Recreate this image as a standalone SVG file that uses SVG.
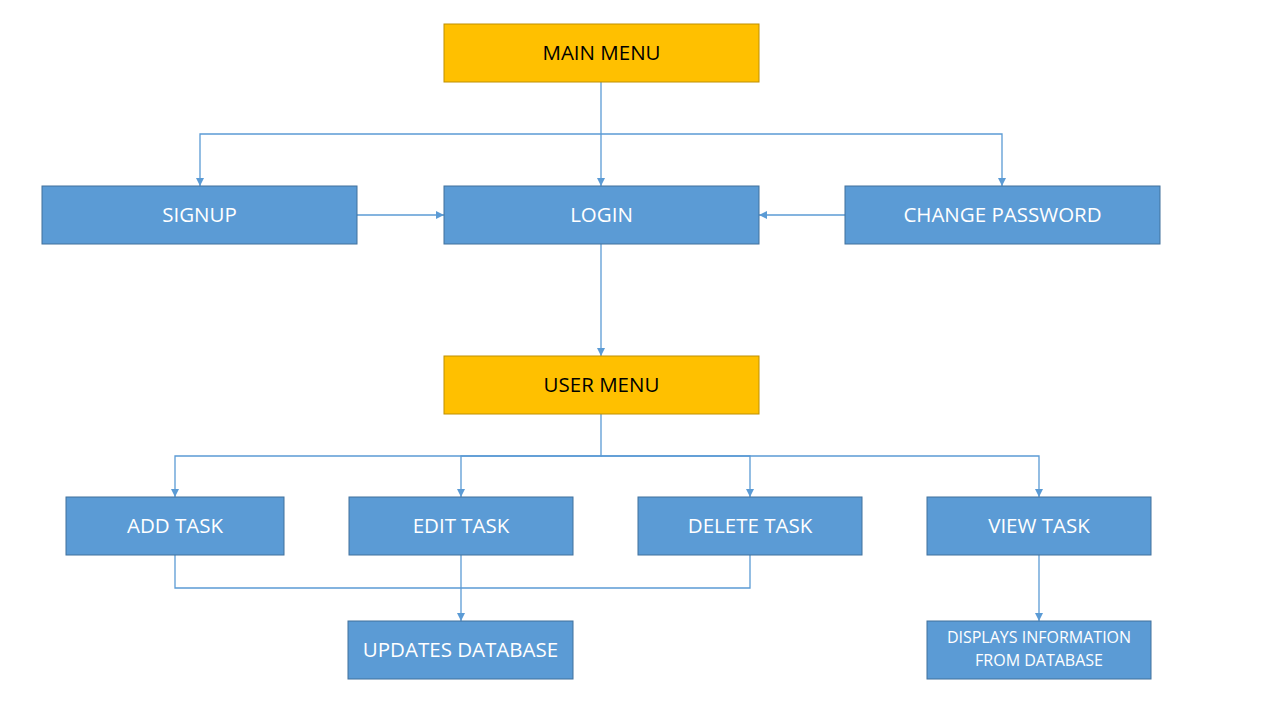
<svg xmlns="http://www.w3.org/2000/svg" width="1280" height="720" viewBox="0 0 1280 720">
<style>
.y{fill:#FFC000;stroke:#BF9000;stroke-width:1}
.b{fill:#5B9BD5;stroke:#41719C;stroke-width:1}
.t{font-family:"Open Sans","Liberation Sans",sans-serif;font-size:20.5px;text-anchor:middle;dominant-baseline:central;fill:#fff}
.tk{fill:#000}
.ts{font-size:16px}
.c{fill:none;stroke:#5B9BD5;stroke-width:1.3}
</style>
<defs>
<marker id="a" viewBox="0 0 10 10" refX="10" refY="5" markerWidth="8" markerHeight="8" markerUnits="userSpaceOnUse" orient="auto">
<path d="M0,0 L10,5 L0,10 z" fill="#5B9BD5"/>
</marker>
</defs>
<rect width="1280" height="720" fill="#fff"/>
<g id="connectors">
<path class="c" d="M601,82 V186" marker-end="url(#a)"/>
<path class="c" d="M601,134 H200 V186" marker-end="url(#a)"/>
<path class="c" d="M601,134 H1002 V186" marker-end="url(#a)"/>
<path class="c" d="M357,215 H444" marker-end="url(#a)"/>
<path class="c" d="M845,215 H759" marker-end="url(#a)"/>
<path class="c" d="M601,244 V356" marker-end="url(#a)"/>
<path class="c" d="M601,414 V456 H175 V497" marker-end="url(#a)"/>
<path class="c" d="M601,456 H461 V497" marker-end="url(#a)"/>
<path class="c" d="M601,456 H750 V497" marker-end="url(#a)"/>
<path class="c" d="M601,456 H1039 V497" marker-end="url(#a)"/>
<path class="c" d="M175,555 V588 H750 V555"/>
<path class="c" d="M461,555 V621" marker-end="url(#a)"/>
<path class="c" d="M1039,555 V621" marker-end="url(#a)"/>
</g>
<g id="main-menu"><rect class="y" x="444" y="24" width="315" height="58"/><text class="t tk" x="601.5" y="52">MAIN MENU</text></g>
<g id="signup"><rect class="b" x="42" y="186" width="315" height="58"/><text class="t" x="199.5" y="214">SIGNUP</text></g>
<g id="login"><rect class="b" x="444" y="186" width="315" height="58"/><text class="t" x="601.5" y="214">LOGIN</text></g>
<g id="change-password"><rect class="b" x="845" y="186" width="315" height="58"/><text class="t" x="1002.5" y="214">CHANGE PASSWORD</text></g>
<g id="user-menu"><rect class="y" x="444" y="356" width="315" height="58"/><text class="t tk" x="601.5" y="384">USER MENU</text></g>
<g id="add-task"><rect class="b" x="66" y="497" width="218" height="58"/><text class="t" x="175" y="525">ADD TASK</text></g>
<g id="edit-task"><rect class="b" x="349" y="497" width="224" height="58"/><text class="t" x="461" y="525">EDIT TASK</text></g>
<g id="delete-task"><rect class="b" x="638" y="497" width="224" height="58"/><text class="t" x="750" y="525">DELETE TASK</text></g>
<g id="view-task"><rect class="b" x="927" y="497" width="224" height="58"/><text class="t" x="1039" y="525">VIEW TASK</text></g>
<g id="updates-database"><rect class="b" x="348" y="621" width="225" height="58"/><text class="t" x="460.5" y="649">UPDATES DATABASE</text></g>
<g id="displays-information"><rect class="b" x="927" y="621" width="224" height="58"/><text class="t ts" x="1039" y="637">DISPLAYS INFORMATION</text><text class="t ts" x="1039" y="660">FROM DATABASE</text></g>
</svg>
